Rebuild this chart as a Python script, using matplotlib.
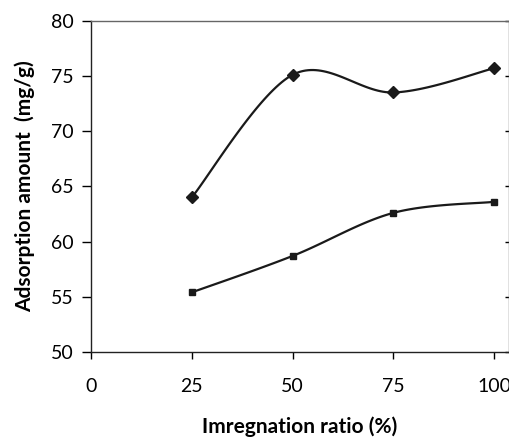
import numpy as np
import matplotlib
matplotlib.use('Agg')
from matplotlib import pyplot as plt

plt.rcParams['font.family'] = ['Lato', 'DejaVu Sans']

ratio = [25, 50, 75, 100]
upper = [64.0, 75.1, 73.5, 75.7]
lower = [55.4, 58.7, 62.6, 63.6]


def smooth(xs, ys, n=40):
    # excel-style smoothed line: cubic bezier through each pair of points
    xs = np.asarray(xs, float)
    ys = np.asarray(ys, float)
    px = np.concatenate([[xs[0]], xs, [xs[-1]]])
    py = np.concatenate([[ys[0]], ys, [ys[-1]]])
    outx, outy = [], []
    t = np.linspace(0, 1, n)
    for i in range(1, len(px) - 2):
        p0 = np.array([px[i], py[i]])
        p3 = np.array([px[i + 1], py[i + 1]])
        c1 = p0 + (np.array([px[i + 1], py[i + 1]]) - np.array([px[i - 1], py[i - 1]])) / 6
        c2 = p3 - (np.array([px[i + 2], py[i + 2]]) - np.array([px[i], py[i]])) / 6
        b = ((1 - t) ** 3)[:, None] * p0 + (3 * (1 - t) ** 2 * t)[:, None] * c1 \
            + (3 * (1 - t) * t ** 2)[:, None] * c2 + (t ** 3)[:, None] * p3
        outx.extend(b[:, 0])
        outy.extend(b[:, 1])
    return outx, outy


fig = plt.figure(figsize=(5.1, 4.4), dpi=100)
ax = fig.add_axes([0.1784, 0.2, 0.82, 0.753])

sx, sy = smooth(ratio, upper)
ax.plot(sx, sy, color='#1a1a1a', lw=1.6)
ax.plot(ratio, upper, 'D', color='#1a1a1a', ms=6.5)

sx, sy = smooth(ratio, lower)
ax.plot(sx, sy, color='#1a1a1a', lw=1.6)
ax.plot(ratio, lower, 's', color='#1a1a1a', ms=5)

ax.set_xlim(0, 103.7)
ax.set_ylim(50, 80)
ax.set_xticks([0, 25, 50, 75, 100])
ax.set_yticks([50, 55, 60, 65, 70, 75, 80])

ax.tick_params(axis='x', direction='out', length=5, width=1, pad=14, labelsize=14)
ax.tick_params(axis='y', direction='out', length=6.5, width=1, pad=6, labelsize=14)
ax.tick_params(axis='y', which='both', right=True, labelright=False)
for t in ax.yaxis.get_ticklines()[1::2]:
    t.set_markersize(3)
    t.set_marker(0)

for s in ['left', 'bottom']:
    ax.spines[s].set_color('#222222')
    ax.spines[s].set_linewidth(1.0)
for s in ['top', 'right']:
    ax.spines[s].set_color('#666666')
    ax.spines[s].set_linewidth(1.0)

ax.set_xlabel('Imregnation ratio (%)', fontsize=15, fontweight='bold', labelpad=15)
ax.set_ylabel('Adsorption amount  (mg/g)', fontsize=15, fontweight='bold', labelpad=11)

fig.savefig('out.png', dpi=100)
